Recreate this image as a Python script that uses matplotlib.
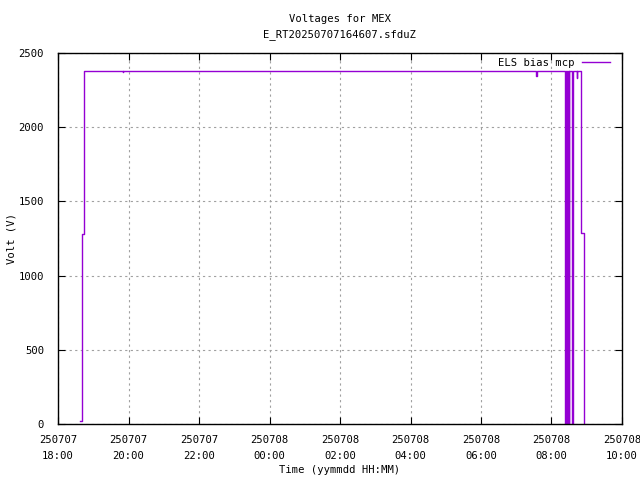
import datetime as dt
import matplotlib
matplotlib.use("Agg")
import matplotlib.pyplot as plt
import matplotlib.dates as mdates

# --- data (time stamps, volts), drawn as steps ---
times = [
    "2025-07-07 18:37", "2025-07-07 18:41", "2025-07-07 18:44",
    "2025-07-07 19:50", "2025-07-07 19:51",
    "2025-07-08 07:34", "2025-07-08 07:35",
    "2025-07-08 08:23", "2025-07-08 08:24", "2025-07-08 08:25", "2025-07-08 08:26",
    "2025-07-08 08:27", "2025-07-08 08:28", "2025-07-08 08:29", "2025-07-08 08:30",
    "2025-07-08 08:31", "2025-07-08 08:35", "2025-07-08 08:36",
    "2025-07-08 08:43", "2025-07-08 08:44",
    "2025-07-08 08:50", "2025-07-08 08:55", "2025-07-08 08:56",
]
volts = [
    20, 1280, 2380,
    2370, 2380,
    2345, 2380,
    0, 2380, 0, 2380,
    0, 2380, 0, 2380,
    2380, 0, 2380,
    2330, 2380,
    1290, 0, 0,
]
series_label = "ELS bias mcp"
title = "Voltages for MEX\nE_RT20250707164607.sfduZ"

t = [dt.datetime.strptime(s, "%Y-%m-%d %H:%M") for s in times]

plt.rcParams["font.family"] = "DejaVu Sans Mono"
plt.rcParams["font.size"] = 7.6

fig = plt.figure(figsize=(6.4, 4.8), dpi=100)
ax = fig.add_axes([58 / 640, 1 - 424 / 480, 564 / 640, 371 / 480])

ax.step(t, volts, where="post", color="#9400d3", lw=1.0, label=series_label)

ax.set_xlim(dt.datetime(2025, 7, 7, 18), dt.datetime(2025, 7, 8, 10))
ax.set_ylim(0, 2500)
ax.set_yticks(range(0, 2501, 500))
ax.xaxis.set_major_locator(mdates.HourLocator(interval=2))
ax.xaxis.set_major_formatter(mdates.DateFormatter("%y%m%d\n%H:%M"))

ax.grid(True, color="#a0a0a0", linestyle=(0, (2, 3)), lw=0.8)
ax.tick_params(direction="in", top=True, right=True, length=5, width=0.8)
ax.tick_params(axis="x", pad=8)
ax.tick_params(axis="y", pad=10)
for sp in ax.spines.values():
    sp.set_linewidth(1.0)

ax.set_xlabel("Time (yymmdd HH:MM)", labelpad=3)
ax.set_ylabel("Volt (V)", va="center")
ax.yaxis.set_label_coords(-46 / 564, 0.5)
fig.text(340 / 640, 1 - 27 / 480, title, ha="center", va="center", linespacing=1.55)

# gnuplot-style key: text then sample line, inset from the right border
ax.legend(loc="center right", bbox_to_anchor=(610 / 640, 1 - 63 / 480),
          bbox_transform=fig.transFigure, frameon=False,
          handlelength=2.65, handletextpad=0.75,
          borderaxespad=0, borderpad=0, markerfirst=False)

fig.canvas.draw()
for lab in ax.get_xticklabels():
    lab.set_linespacing(1.75)

fig.savefig("out.png", dpi=100)
